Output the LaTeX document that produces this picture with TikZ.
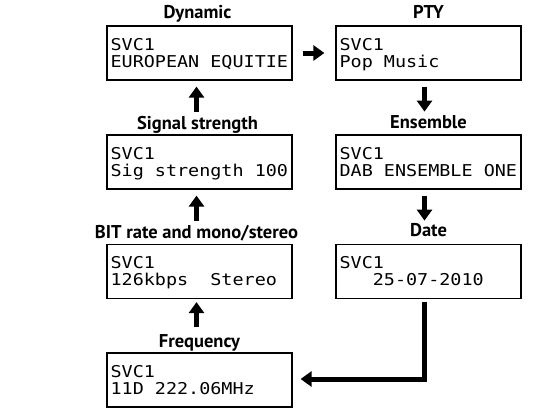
\documentclass[tikz,border=0pt]{standalone}
\usepackage{fontspec}
\setmainfont{PT Sans}
\newfontfamily\lcd[FakeStretch=1.13]{DejaVu Sans Mono}
\usetikzlibrary{arrows.meta,calc}
\tikzset{
  screen/.style={draw, line width=1.2pt, minimum width=185pt, minimum height=54pt, inner sep=0pt},
  lcdtext/.style={anchor=base west, font=\lcd\fontsize{16.3}{16.3}\selectfont, inner sep=0pt},
  title/.style={anchor=base, font=\bfseries\fontsize{18.5}{18.5}\selectfont, inner sep=0pt},
  flow/.style={line width=5pt, -{Triangle[length=11pt,width=15pt]}}
}
\newcommand{\screenlines}[3]{%
  \node[lcdtext] (#1l1) at ($(#1.north west)+(4,25)$) {#2};
  \node[lcdtext] (#1l2) at ($(#1.north west)+(4,42)$) {#3};
}
\begin{document}
\begin{tikzpicture}[x=1pt,y=-1pt]
\useasboundingbox (0,0) rectangle (534,416);
\fill[white] (0,0) rectangle (534,416);
% boxes
\node[screen] (dyn) at (199.5,53) {};
\node[screen] (pty) at (428.5,53) {};
\node[screen] (sig) at (199.5,162) {};
\node[screen] (ens) at (428.5,162) {};
\node[screen] (bit) at (199.5,271.5) {};
\node[screen] (date) at (428.5,271.5) {};
\node[screen] (freq) at (199.5,380) {};
% texts
\screenlines{dyn}{SVC1}{EUROPEAN EQUITIE}
\screenlines{pty}{SVC1}{Pop Music}
\screenlines{sig}{SVC1}{Sig strength 100}
\screenlines{ens}{SVC1}{DAB ENSEMBLE ONE}
\screenlines{bit}{SVC1}{126kbps\ \ Stereo}
\screenlines{date}{SVC1}{\ \ \ 25-07-2010}
\screenlines{freq}{SVC1}{11D 222.06MHz}
% titles
\node[title] (dynt) at ($(dyn.north)+(-2,-7)$) {Dynamic};
\node[title] (ptyt) at ($(pty.north)+(0,-7)$) {PTY};
\node[title] (sigt) at ($(sig.north)+(-2,-5)$) {Signal strength};
\node[title] (enst) at ($(ens.north)+(0,-6)$) {Ensemble};
\node[title] (bitt) at ($(bit.north)+(-3,-5)$) {BIT rate and mono/stereo};
\node[title] (datet) at ($(date.north)+(0,-7)$) {Date};
\node[title] (freqt) at ($(freq.north)+(0,-5)$) {Frequency};
% arrows
\draw[flow] ($(dyn.east)+(10,0)$) -- ($(pty.west)+(-11,0)$);
\draw[flow] ($(dyn.south)+(-3,31)$) -- ($(dyn.south)+(-3,6)$);
\draw[flow] ($(pty.south)+(-4,6)$) -- ($(pty.south)+(-4,31)$);
\draw[flow] ($(sig.south)+(-3,31)$) -- ($(sig.south)+(-3,6)$);
\draw[flow] ($(ens.south)+(-4,6)$) -- ($(ens.south)+(-4,31)$);
\draw[flow] ($(bit.south)+(-3,28)$) -- ($(bit.south)+(-3,3)$);
\draw[flow] ($(date.south)+(-4,3)$) |- ($(freq.east)+(8,-1)$);
\end{tikzpicture}
\end{document}
